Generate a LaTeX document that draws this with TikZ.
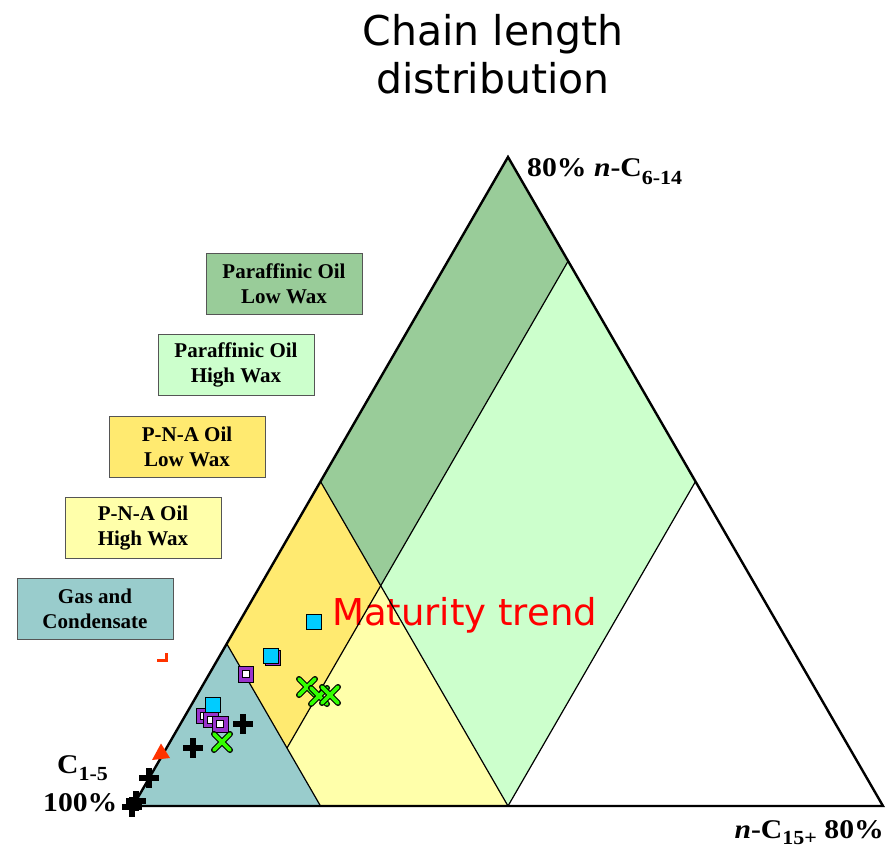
\documentclass[tikz,border=0pt]{standalone}
\usepackage{fontspec}
\setmainfont{Liberation Serif}
\newfontfamily\titlefont{DejaVu Sans}
\definecolor{dkgreen}{HTML}{99CC99}
\definecolor{ltgreen}{HTML}{CCFFCC}
\definecolor{dkyellow}{HTML}{FFEA70}
\definecolor{ltyellow}{HTML}{FFFFAA}
\definecolor{gasc}{HTML}{99CCCC}
\definecolor{cyanmk}{HTML}{00CCFF}
\definecolor{purplemk}{HTML}{9933CC}
\definecolor{greenmk}{HTML}{33FF00}
\definecolor{redmk}{HTML}{FF3300}
\definecolor{boxline}{HTML}{555555}
\newcommand\legfont{\fontsize{21}{25}\selectfont\bfseries}
\newcommand\lblfont{\fontsize{27}{30}\selectfont\bfseries}
\newcommand\subfnt{\fontsize{20}{20}\selectfont\bfseries}
\newcommand\wide[1]{\scalebox{1.1}[1]{#1}}
\newcommand\pursq[2]{\node[pusq] (#1) at (#2) {}; \node[puin] (#1in) at (#1) {};}
\tikzset{
  legbox/.style={draw=boxline, line width=0.8pt, minimum width=156pt, minimum height=61pt,
    align=center, font=\legfont, inner sep=0pt},
  regline/.style={line width=1.2pt, black},
  cysq/.style={draw=black, line width=0.5pt, fill=cyanmk, minimum size=15pt, inner sep=0pt},
  pusq/.style={draw=black, line width=0.5pt, fill=purplemk, minimum size=15.5pt, inner sep=0pt},
  puin/.style={draw=black, line width=0.5pt, fill=white, minimum size=7pt, inner sep=0pt},
  plusmk/.pic={\draw[line width=6pt] (-10,0)--(10,0) (0,-10)--(0,10);},
  xmk/.pic={\draw[line width=6pt, line cap=round] (-8,-8)--(8,8) (-8,8)--(8,-8);
            \draw[line width=3.8pt, greenmk, line cap=round] (-8,-8)--(8,8) (-8,8)--(8,-8);}
}
\begin{document}
\begin{tikzpicture}[x=1pt,y=-1pt]
\useasboundingbox (0,0) rectangle (887,848);
\fill[white] (0,0) rectangle (887,848);

% title
\node[font=\titlefont\fontsize{41}{47}\selectfont, anchor=base, inner sep=0pt] (title1) at (493,46) {Chain length};
\node[font=\titlefont\fontsize{41}{47}\selectfont, anchor=base, inner sep=0pt] (title2) at (493,94) {distribution};

% triangle key points
\coordinate (L) at (133,806);
\coordinate (R) at (883,806);
\coordinate (T) at (508,157);
\coordinate (A1) at (226.75,643.75);
\coordinate (A2) at (320.5,481.5);
\coordinate (B1) at (320.5,806);
\coordinate (B2) at (508,806);
\coordinate (M) at (695.5,481.5);
\coordinate (P) at (568.25,260.9);
\coordinate (Q) at (380.7,585.7);
\coordinate (S) at (287,748);

% regions
\fill[gasc] (L)--(A1)--(B1)--cycle;
\fill[dkyellow] (A1)--(A2)--(Q)--(S)--cycle;
\fill[ltyellow] (S)--(Q)--(B2)--(B1)--cycle;
\fill[dkgreen] (T)--(P)--(Q)--(A2)--cycle;
\fill[ltgreen] (P)--(M)--(B2)--(Q)--cycle;

% maturity trend
\node[font=\titlefont\fontsize{37}{40}\selectfont, text=red, anchor=base west, inner sep=0pt] (trend) at (332,625) {Maturity trend};

% region lines
\draw[regline] (A1)--(B1);
\draw[regline] (A2)--(B2);
\draw[regline] (S)--(P);
\draw[regline] (M)--(B2);
\draw[line width=2.4pt, line join=miter] (L)--(T)--(R)--cycle;

% legend boxes
\node[legbox, fill=dkgreen] (lg1) at (284,283.5) {Paraffinic Oil\\Low Wax};
\node[legbox, fill=ltgreen] (lg2) at (236,364.5) {Paraffinic Oil\\High Wax};
\node[legbox, fill=dkyellow] (lg3) at (187,447) {P-N-A Oil\\Low Wax};
\node[legbox, fill=ltyellow] (lg4) at (143,528) {P-N-A Oil\\High Wax};
\node[legbox, fill=gasc] (lg5) at (95,609) {Gas and\\Condensate};

% axis labels
\node[font=\lblfont, anchor=base west, inner sep=0pt] (ltop) at (527,177)
  {\wide{80\% \textit{n}-C\raisebox{-8pt}{\subfnt 6-14}}};
\node[font=\lblfont, anchor=base east, inner sep=0pt] (lright) at (884,838)
  {\wide{\textit{n}-C\raisebox{-6pt}{\subfnt 15+} 80\%}};
\node[font=\lblfont, anchor=base west, inner sep=0pt] (lleft1) at (57,773)
  {\wide{C\raisebox{-7pt}{\subfnt 1-5}}};
\node[font=\lblfont, anchor=base west, inner sep=0pt] (lleft2) at (43,811) {\wide{100\%}};

% small red mark
\draw[redmk, line width=3pt] (157,660)--(166,660)--(166,653);

% markers
\pursq{pq1}{245.8,674.2}
\pursq{pq2}{203.5,715.5}
\pursq{pq3}{210.5,719.5}
\node[cysq] (cy3) at (213,704.7) {};
\pursq{pq4}{220,724}
\node[cysq, fill=purplemk] (cy2s) at (272.5,657.5) {};
\node[cysq] (cy2) at (270.5,655.5) {};
\node[cysq] (cy1) at (313.3,621.7) {};

\pic at (307,687) {xmk};
\pic at (319,696) {xmk};
\pic at (330,695) {xmk};
\pic at (222,742) {xmk};

\pic at (243,724) {plusmk};
\pic at (193,748) {plusmk};
\pic at (149,778) {plusmk};
\pic at (136,801) {plusmk};
\pic at (132,807) {plusmk};

\fill[redmk] (152,760)--(170,758)--(161,743.5)--cycle;
\end{tikzpicture}
\end{document}
